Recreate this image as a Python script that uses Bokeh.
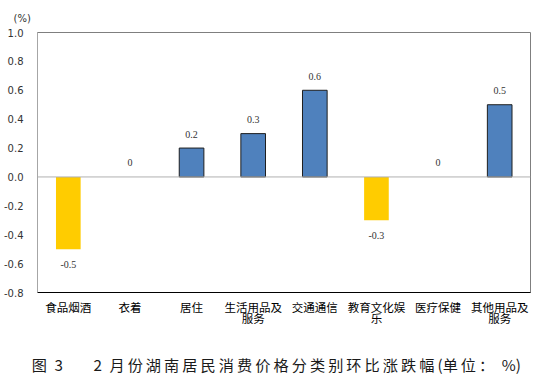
from bokeh.plotting import figure
from bokeh.models import (ColumnDataSource, FactorRange, Range1d, FixedTicker,
                          NumeralTickFormatter, Span, LabelSet, Title, CategoricalAxis,
                          CustomJSTickFormatter)
from bokeh.embed import file_html
from bokeh.resources import INLINE

categories = ["食品烟酒", "衣着", "居住", "生活用品及服务", "交通通信", "教育文化娱乐", "医疗保健", "其他用品及服务"]
label_line1 = ["食品烟酒", "衣着", "居住", "生活用品及", "交通通信", "教育文化娱", "医疗保健", "其他用品及"]
label_line2 = ["", "", "", "服务", "", "乐", "", "服务"]
values = [-0.5, 0, 0.2, 0.3, 0.6, -0.3, 0, 0.5]
y_ticks = [-0.8, -0.6, -0.4, -0.2, 0.0, 0.2, 0.4, 0.6, 0.8, 1.0]
unit_text = "(%)"
T = "\u2009"
title_text = ("图\u20023\u2003\u2002\u20022\u2002"
              + T.join("月份湖南居民消费价格分类别环比涨跌幅") + T + "(" + T.join("单位：") + "\u2002%)")

colors = ["#FFCC00" if v < 0 else "#4F81BD" for v in values]
alphas = [1 if v > 0 else 0 for v in values]
labels = [("0" if v == 0 else f"{v:.1f}") for v in values]
offsets = [-15 if v < 0 else 14 for v in values]

src = ColumnDataSource(dict(cat=categories, val=values, color=colors,
                            lalpha=alphas, label=labels, off=offsets))

p = figure(width=532, height=379, output_backend="svg", toolbar_location=None,
           x_range=FactorRange(*categories, range_padding=0),
           y_range=Range1d(-0.8, 1.0), x_axis_location=None,
           min_border_left=32, min_border_right=2, min_border_top=32, min_border_bottom=87)

p.title = Title(text=unit_text, align="left", offset=-24, text_font="DejaVu Sans",
                text_font_size="10px", text_font_style="normal", text_color="#333333",
                standoff=18)

p.vbar(x="cat", top="val", bottom=0, width=0.4, source=src, fill_color="color",
       line_color="#1F1F1F", line_alpha="lalpha", line_width=1)

p.add_layout(Span(location=0, dimension="width", line_color="#B0B0B0", line_width=1))

p.add_layout(LabelSet(x="cat", y="val", text="label", y_offset="off", source=src,
                      text_align="center", text_baseline="middle", text_font="DejaVu Sans",
                      text_font_size="10px", text_color="#333333"))

js = """
const v = (m instanceof Map) ? m.get(tick) : m[tick];
return (v === undefined || v === null) ? "" : v;
"""
fmt1 = CustomJSTickFormatter(args=dict(m=dict(zip(categories, label_line1))), code=js)
fmt2 = CustomJSTickFormatter(args=dict(m=dict(zip(categories, label_line2))), code=js)

ax1 = CategoricalAxis(formatter=fmt1,
                      major_tick_line_color=None, minor_tick_line_color=None,
                      axis_line_color="#000000", major_label_standoff=0,
                      major_label_text_font="Noto Sans CJK SC",
                      major_label_text_font_size="11.5px", major_label_text_color="#000000")
ax2 = CategoricalAxis(formatter=fmt2,
                      major_tick_line_color=None, minor_tick_line_color=None,
                      axis_line_color=None, major_label_standoff=-14,
                      major_label_text_font="Noto Sans CJK SC",
                      major_label_text_font_size="11.5px", major_label_text_color="#000000",
                      axis_label=title_text + "\u2003", axis_label_standoff=24,
                      axis_label_text_font="Noto Sans CJK SC",
                      axis_label_text_font_size="15.2px",
                      axis_label_text_font_style="normal",
                      axis_label_text_color="#1A1A1A",
                      axis_label_text_line_height=1.0)
p.add_layout(ax1, "below")
p.add_layout(ax2, "below")

p.xgrid.visible = False
p.ygrid.visible = False
p.outline_line_color = "#7F7F7F"
p.outline_line_width = 1

p.yaxis.ticker = FixedTicker(ticks=y_ticks)
p.yaxis.formatter = NumeralTickFormatter(format="0.0")
p.yaxis.major_tick_line_color = None
p.yaxis.minor_tick_line_color = None
p.yaxis.axis_line_color = "#A6A6A6"
p.yaxis.major_label_text_font = "DejaVu Sans"
p.yaxis.major_label_text_font_size = "10px"
p.yaxis.major_label_text_color = "#333333"
p.yaxis.major_label_standoff = 8

open("out.html", "w").write(file_html(p, INLINE))
